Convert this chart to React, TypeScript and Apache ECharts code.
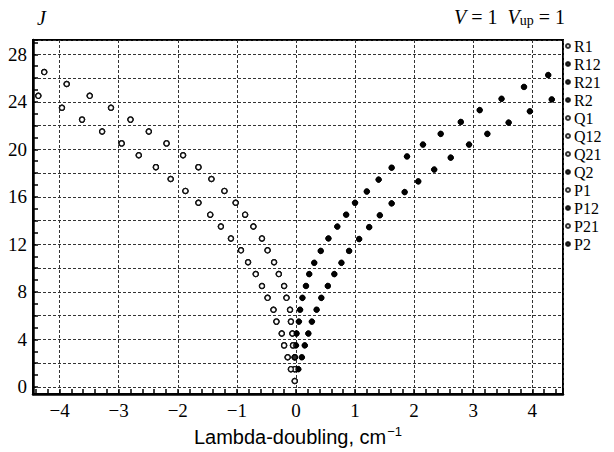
import React, { useEffect, useRef } from "react";
import * as echarts from "echarts";

// Branch A (left, near zero) — open markers
const jA = [26.5, 25.5, 24.5, 23.5, 22.5, 21.5, 20.5, 19.5, 18.5, 17.5, 16.5, 15.5, 14.5, 13.5, 12.5, 11.5, 10.5, 9.5, 8.5, 7.5, 6.5, 5.5, 4.5, 3.5, 2.5, 1.5, 0.5];
const xA = [-4.26, -3.88, -3.49, -3.13, -2.8, -2.49, -2.19, -1.91, -1.65, -1.43, -1.21, -1.02, -0.86, -0.72, -0.575, -0.48, -0.37, -0.29, -0.2, -0.16, -0.1, -0.085, -0.06, -0.05, -0.02, -0.02, -0.02];
// Branch B (left, outer) — open markers
const jB = [24.5, 23.5, 22.5, 21.5, 20.5, 19.5, 18.5, 17.5, 16.5, 15.5, 14.5, 13.5, 12.5, 11.5, 10.5, 9.5, 8.5, 7.5, 6.5, 5.5, 4.5, 3.5, 2.5, 1.5];
const xB = [-4.36, -3.96, -3.62, -3.28, -2.95, -2.66, -2.37, -2.12, -1.87, -1.65, -1.45, -1.27, -1.1, -0.93, -0.81, -0.68, -0.575, -0.48, -0.38, -0.33, -0.24, -0.2, -0.14, -0.085];
// Branch C (right, inner) — filled markers
const jC = [26.25, 25.25, 24.25, 23.3, 22.3, 21.3, 20.4, 19.4, 18.45, 17.45, 16.45, 15.5, 14.5, 13.5, 12.5, 11.45, 10.45, 9.5, 8.5, 7.5, 6.5, 5.5, 4.5, 3.5, 2.5];
const xC = [4.27, 3.86, 3.48, 3.11, 2.79, 2.45, 2.15, 1.88, 1.62, 1.4, 1.2, 1.0, 0.85, 0.7, 0.55, 0.42, 0.31, 0.225, 0.17, 0.11, 0.07, 0.05, 0.01, 0.0, -0.02];
// Branch D (right, outer) — filled markers
const jD = [24.2, 23.2, 22.25, 21.3, 20.4, 19.3, 18.3, 17.3, 16.4, 15.45, 14.45, 13.45, 12.45, 11.45, 10.45, 9.5, 8.5, 7.5, 6.5, 5.5, 4.5, 3.5, 2.5, 1.5];
const xD = [4.33, 3.96, 3.6, 3.24, 2.93, 2.62, 2.34, 2.07, 1.84, 1.62, 1.42, 1.24, 1.07, 0.9, 0.77, 0.65, 0.54, 0.43, 0.35, 0.27, 0.21, 0.15, 0.1, 0.04];

const seriesNames = ["R1", "R12", "R21", "R2", "Q1", "Q12", "Q21", "Q2", "P1", "P12", "P21", "P2"];
const seriesBranch = ["A", "C", "D", "D", "A", "B", "B", "C", "A", "C", "B", "D"];
const seriesOpen = [true, false, false, false, true, true, true, false, true, false, true, false];

const branches: Record<string, [number[], number[]]> = {
  A: [xA, jA],
  B: [xB, jB],
  C: [xC, jC],
  D: [xD, jD],
};

const SERIF = "'Liberation Serif', 'Times New Roman', serif";
const SANS = "'Liberation Sans', Arial, sans-serif";

export default function App() {
  const ref = useRef<HTMLDivElement>(null);
  useEffect(() => {
    if (!ref.current) return;
    const chart = echarts.init(ref.current, undefined, { renderer: "svg" });
    const series = seriesNames.map((name, i) => {
      const [xs, js] = branches[seriesBranch[i]];
      const open = seriesOpen[i];
      return {
        type: "scatter",
        name,
        symbol: "circle",
        symbolSize: open ? 5 : 5.5,
        data: xs.map((x, k) => [x, js[k]]),
        itemStyle: open
          ? { color: "#fff", borderColor: "#000", borderWidth: 1.4 }
          : { color: "#000", borderColor: "#000", borderWidth: 0.5 },
      };
    });
    const isInt = (v: number) => Math.abs(v - Math.round(v)) < 1e-6;
    chart.setOption({
      animation: false,
      backgroundColor: "#fff",
      grid: {
        left: 33,
        right: 51,
        top: 40,
        bottom: 50,
        show: true,
        borderColor: "#000",
        borderWidth: 2,
        containLabel: false,
      },
      legend: {
        orient: "vertical",
        left: 565,
        top: 38,
        padding: 0,
        itemGap: 2,
        itemWidth: 4,
        itemHeight: 4,
        icon: "circle",
        data: seriesNames,
        textStyle: { fontFamily: SERIF, fontSize: 16, color: "#000", lineHeight: 16, padding: [0, 0, 0, -1] },
      },
      xAxis: {
        type: "value",
        min: -4.45,
        max: 4.52,
        minInterval: 1,
        maxInterval: 1,
        name: "{a|Lambda-doubling, cm}{s|−1}",
        nameLocation: "middle",
        nameGap: 25,
        nameTextStyle: {
          rich: {
            a: { fontFamily: SANS, fontSize: 20, color: "#000" },
            s: { fontFamily: SANS, fontSize: 13, color: "#000", padding: [0, 0, 11, 1] },
          },
        },
        axisLine: { show: true, onZero: false, lineStyle: { color: "#000", width: 2.5 } },
        axisTick: { show: true, inside: true, length: 5, lineStyle: { color: "#000", width: 1.5 } },
        minorTick: { show: true, splitNumber: 5, length: 5, lineStyle: { color: "#000", width: 1.5 } },
        axisLabel: {
          showMinLabel: false,
          showMaxLabel: false,
          margin: 7,
          color: "#000",
          fontFamily: SERIF,
          fontSize: 19,
          formatter: (v: number) => (!isInt(v) ? "" : v < 0 ? "−" + Math.abs(v) : String(v)),
        },
        splitLine: { show: true, lineStyle: { color: "#333", width: 1, type: [3, 2] } },
      },
      yAxis: {
        type: "value",
        min: -0.6,
        max: 29.2,
        minInterval: 2,
        maxInterval: 2,
        axisLine: { show: true, onZero: false, lineStyle: { color: "#000", width: 2.5 } },
        axisTick: { show: true, inside: true, length: 5, lineStyle: { color: "#000", width: 1.5 } },
        minorTick: { show: true, splitNumber: 2, length: 5, lineStyle: { color: "#000", width: 1.5 } },
        axisLabel: {
          showMinLabel: false,
          showMaxLabel: false,
          margin: 6,
          color: "#000",
          fontFamily: SERIF,
          fontSize: 19,
          formatter: (v: number) => (isInt(v) && Math.round(v) % 4 === 0 ? String(Math.round(v)) : ""),
        },
        splitLine: { show: true, lineStyle: { color: "#333", width: 1, type: [3, 2] } },
      },
      graphic: [
        {
          type: "text",
          left: 37,
          top: 8,
          style: { text: "J", font: `italic 20px ${SERIF}`, fill: "#000" },
        },
        {
          type: "text",
          right: 49,
          top: 7,
          style: {
            text: "{i|V} = 1  {i|V}{s|up} = 1",
            fill: "#000",
            font: `20px ${SERIF}`,
            rich: {
              i: { fontFamily: SERIF, fontStyle: "italic", fontSize: 20 },
              s: { fontFamily: SERIF, fontSize: 14, padding: [7, 0, 0, 0] },
            },
          },
        },
      ],
      series,
    });
    return () => chart.dispose();
  }, []);
  return <div ref={ref} style={{ position: "fixed", left: 0, top: 0, width: 614, height: 452 }} />;
}
